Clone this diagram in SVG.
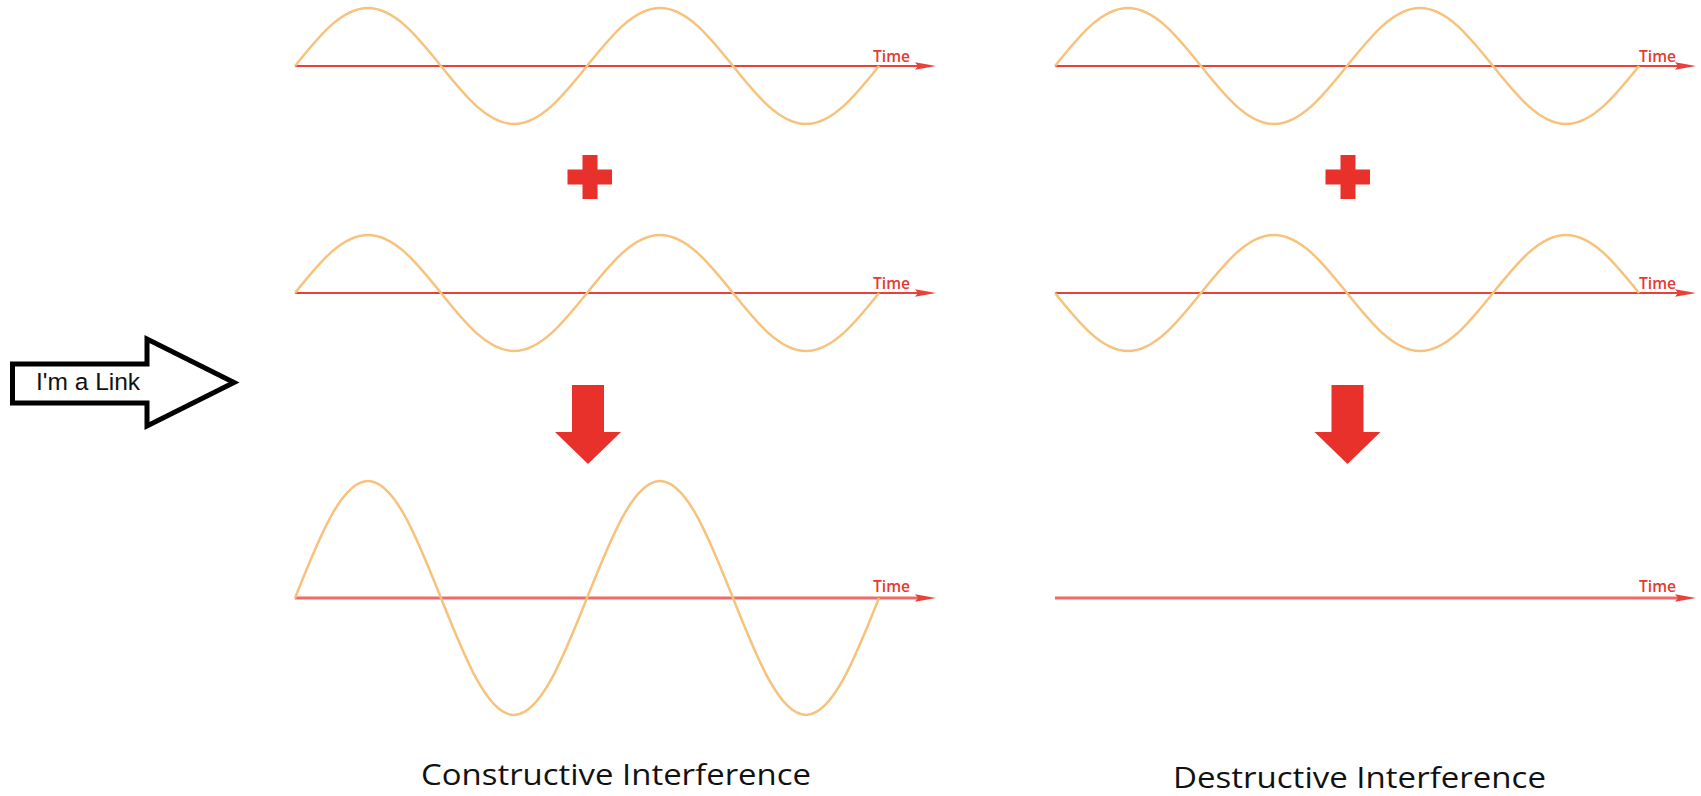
<svg xmlns="http://www.w3.org/2000/svg" width="1701" height="796" viewBox="0 0 1701 796">
<style>
.wave{fill:none;stroke:#f7c27c;stroke-width:2.5;stroke-linejoin:round}
.axis{stroke:#e8413a;stroke-width:2.2}
.axis2{stroke:#f06a6a;stroke-width:3}
.ah{fill:#e8413a}
.time{font-family:"Open Sans","Liberation Sans",sans-serif;font-size:16px;font-weight:600;fill:#e53a2f}
.sym{fill:#e8312a}
.title{font-family:"Open Sans","Noto Sans","Liberation Sans",sans-serif;font-size:30px;fill:#111}
.link{fill:#fff;stroke:#000;stroke-width:5;stroke-miterlimit:10}
.linktext{font-family:"Liberation Sans",Arial,sans-serif;font-size:24.5px;fill:#111}
</style>
<rect width="1701" height="796" fill="#fff"/>

<g id="link-arrow">
<polygon class="link" points="12.5,364 147,364 147,339 234,382.5 147,426 147,403 12.5,403"/>
<text class="linktext" x="36" y="390">I'm a Link</text>
</g>

<g id="constructive">
<g id="c-row1">
<line class="axis" x1="295" y1="66" x2="922" y2="66"/>
<polygon class="ah" points="936,66 915,62.3 918,66 915,69.7"/>
<text class="time" x="873" y="62" textLength="37" lengthAdjust="spacingAndGlyphs">Time</text>
<path class="wave" d="M295,66 c23.8,-29.7 46.58,-58 73,-58 c26.42,0 49.2,28.3 73,58 c23.8,29.7 46.58,58 73,58 c26.42,0 49.2,-28.3 73,-58 c23.8,-29.7 46.58,-58 73,-58 c26.42,0 49.2,28.3 73,58 c23.8,29.7 46.58,58 73,58 c26.42,0 49.2,-28.3 73,-58"/>
</g>
<g id="c-plus">
<path class="sym" d="M582.5,155 h15 v14.5 h14.5 v15 h-14.5 v14.5 h-15 v-14.5 h-15 v-15 h15 z"/>
</g>
<g id="c-row2">
<line class="axis" x1="295" y1="293" x2="922" y2="293"/>
<polygon class="ah" points="936,293 915,289.3 918,293 915,296.7"/>
<text class="time" x="873" y="289" textLength="37" lengthAdjust="spacingAndGlyphs">Time</text>
<path class="wave" d="M295,293 c23.8,-29.7 46.58,-58 73,-58 c26.42,0 49.2,28.3 73,58 c23.8,29.7 46.58,58 73,58 c26.42,0 49.2,-28.3 73,-58 c23.8,-29.7 46.58,-58 73,-58 c26.42,0 49.2,28.3 73,58 c23.8,29.7 46.58,58 73,58 c26.42,0 49.2,-28.3 73,-58"/>
</g>
<g id="c-down">
<polygon class="sym" points="572,385 604,385 604,432 621,432 588,464 555,432 572,432"/>
</g>
<g id="c-row3">
<line class="axis2" x1="295" y1="598" x2="922" y2="598"/>
<polygon class="ah" points="936,598 915,594.3 918,598 915,601.7"/>
<text class="time" x="873" y="592" textLength="37" lengthAdjust="spacingAndGlyphs">Time</text>
<path class="wave" d="M295,598 c23.8,-59.9 46.58,-117 73,-117 c26.42,0 49.2,57.1 73,117 c23.8,59.9 46.58,117 73,117 c26.42,0 49.2,-57.1 73,-117 c23.8,-59.9 46.58,-117 73,-117 c26.42,0 49.2,57.1 73,117 c23.8,59.9 46.58,117 73,117 c26.42,0 49.2,-57.1 73,-117"/>
</g>
<text class="title" x="421" y="785" textLength="390" lengthAdjust="spacingAndGlyphs">Constructive Interference</text>
</g>

<g id="destructive">
<g id="d-row1">
<line class="axis" x1="1055" y1="66" x2="1682" y2="66"/>
<polygon class="ah" points="1696,66 1675,62.3 1678,66 1675,69.7"/>
<text class="time" x="1639" y="62" textLength="37" lengthAdjust="spacingAndGlyphs">Time</text>
<path class="wave" d="M1055,66 c23.8,-29.7 46.58,-58 73,-58 c26.42,0 49.2,28.3 73,58 c23.8,29.7 46.58,58 73,58 c26.42,0 49.2,-28.3 73,-58 c23.8,-29.7 46.58,-58 73,-58 c26.42,0 49.2,28.3 73,58 c23.8,29.7 46.58,58 73,58 c26.42,0 49.2,-28.3 73,-58"/>
</g>
<g id="d-plus">
<path class="sym" d="M1340.5,155 h15 v14.5 h14.5 v15 h-14.5 v14.5 h-15 v-14.5 h-15 v-15 h15 z"/>
</g>
<g id="d-row2">
<line class="axis" x1="1055" y1="293" x2="1682" y2="293"/>
<polygon class="ah" points="1696,293 1675,289.3 1678,293 1675,296.7"/>
<text class="time" x="1639" y="289" textLength="37" lengthAdjust="spacingAndGlyphs">Time</text>
<path class="wave" d="M1055,293 c23.8,29.7 46.58,58 73,58 c26.42,0 49.2,-28.3 73,-58 c23.8,-29.7 46.58,-58 73,-58 c26.42,0 49.2,28.3 73,58 c23.8,29.7 46.58,58 73,58 c26.42,0 49.2,-28.3 73,-58 c23.8,-29.7 46.58,-58 73,-58 c26.42,0 49.2,28.3 73,58"/>
</g>
<g id="d-down">
<polygon class="sym" points="1331.5,385 1363.5,385 1363.5,432 1380.5,432 1347.5,464 1314.5,432 1331.5,432"/>
</g>
<g id="d-row3">
<line class="axis2" x1="1055" y1="598" x2="1682" y2="598"/>
<polygon class="ah" points="1696,598 1675,594.3 1678,598 1675,601.7"/>
<text class="time" x="1639" y="592" textLength="37" lengthAdjust="spacingAndGlyphs">Time</text>
</g>
<text class="title" x="1173" y="788" textLength="373" lengthAdjust="spacingAndGlyphs">Destructive Interference</text>
</g>
</svg>
